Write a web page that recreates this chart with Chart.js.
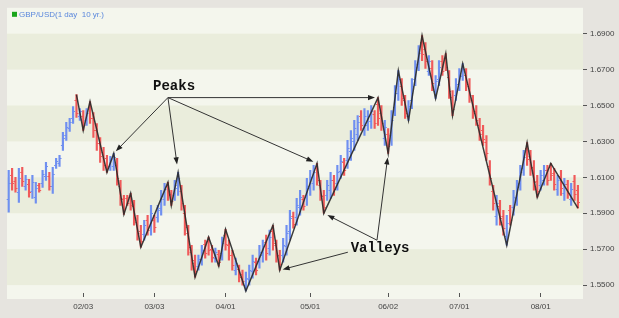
<!DOCTYPE html>
<html>
<head>
<meta charset="utf-8">
<script src="https://cdn.jsdelivr.net/npm/chart.js@4.4.1/dist/chart.umd.min.js"></script>
<style>
  html, body { margin: 0; padding: 0; background: #e6e4df; }
  #wrap { width: 619px; height: 318px; }
</style>
</head>
<body>
<div id="wrap"><canvas id="chart" width="619" height="318"></canvas></div>
<script>
// daily bars, one per trading day (index 0 = first bar on the left)
const highs = [
  1.6139, 1.6150, 1.6100, 1.6150, 1.6156, 1.6111, 1.6089, 1.6111, 1.6072, 1.6067,
  1.6139, 1.6183, 1.6128, 1.6156, 1.6206, 1.6222, 1.6350, 1.6406, 1.6428, 1.6494,
  1.6561, 1.6483, 1.6472, 1.6483, 1.6522, 1.6461, 1.6400, 1.6322, 1.6267, 1.6222,
  1.6217, 1.6233, 1.6206, 1.6083, 1.6000, 1.6000, 1.6011, 1.5972, 1.5889, 1.5833,
  1.5861, 1.5889, 1.5944, 1.5889, 1.5944, 1.6028, 1.6067, 1.6072, 1.6028, 1.6083,
  1.6128, 1.6056, 1.5944, 1.5833, 1.5722, 1.5667, 1.5667, 1.5722, 1.5750, 1.5767,
  1.5722, 1.5706, 1.5694, 1.5767, 1.5811, 1.5750, 1.5694, 1.5650, 1.5611, 1.5583,
  1.5572, 1.5611, 1.5667, 1.5650, 1.5722, 1.5750, 1.5778, 1.5806, 1.5833, 1.5750,
  1.5694, 1.5761, 1.5833, 1.5917, 1.5906, 1.5983, 1.6028, 1.6000, 1.6094, 1.6139,
  1.6167, 1.6178, 1.6083, 1.6028, 1.6083, 1.6128, 1.6111, 1.6167, 1.6222, 1.6206,
  1.6306, 1.6361, 1.6417, 1.6444, 1.6472, 1.6483, 1.6472, 1.6500, 1.6472, 1.6544,
  1.6500, 1.6417, 1.6372, 1.6472, 1.6611, 1.6694, 1.6650, 1.6556, 1.6528, 1.6650,
  1.6750, 1.6833, 1.6889, 1.6850, 1.6778, 1.6750, 1.6667, 1.6750, 1.6778, 1.6789,
  1.6694, 1.6583, 1.6650, 1.6706, 1.6733, 1.6706, 1.6650, 1.6556, 1.6500, 1.6428,
  1.6389, 1.6333, 1.6194, 1.6056, 1.6000, 1.5972, 1.5917, 1.5889, 1.5944, 1.6028,
  1.6083, 1.6167, 1.6250, 1.6294, 1.6250, 1.6194, 1.6111, 1.6139, 1.6167, 1.6167,
  1.6178, 1.6150, 1.6111, 1.6139, 1.6094, 1.6083, 1.6067, 1.6111, 1.6056
];
const lows = [
  1.5906, 1.6028, 1.6017, 1.5961, 1.6050, 1.6028, 1.5989, 1.5983, 1.5956, 1.6017,
  1.6044, 1.6083, 1.6028, 1.6011, 1.6150, 1.6161, 1.6250, 1.6306, 1.6356, 1.6400,
  1.6433, 1.6417, 1.6361, 1.6389, 1.6400, 1.6322, 1.6250, 1.6183, 1.6139, 1.6128,
  1.6139, 1.6139, 1.6056, 1.5944, 1.5894, 1.5944, 1.5917, 1.5833, 1.5750, 1.5711,
  1.5750, 1.5778, 1.5778, 1.5794, 1.5850, 1.5889, 1.5944, 1.5972, 1.5944, 1.5972,
  1.6000, 1.5917, 1.5778, 1.5667, 1.5583, 1.5544, 1.5583, 1.5611, 1.5650, 1.5667,
  1.5628, 1.5628, 1.5606, 1.5639, 1.5694, 1.5639, 1.5583, 1.5556, 1.5517, 1.5500,
  1.5467, 1.5500, 1.5539, 1.5556, 1.5594, 1.5628, 1.5639, 1.5667, 1.5694, 1.5628,
  1.5583, 1.5628, 1.5667, 1.5750, 1.5817, 1.5833, 1.5889, 1.5917, 1.5944, 1.6000,
  1.6028, 1.6056, 1.5972, 1.5900, 1.5972, 1.5983, 1.6000, 1.6028, 1.6094, 1.6111,
  1.6150, 1.6194, 1.6250, 1.6306, 1.6361, 1.6333, 1.6361, 1.6372, 1.6372, 1.6389,
  1.6361, 1.6278, 1.6233, 1.6278, 1.6444, 1.6528, 1.6500, 1.6428, 1.6417, 1.6483,
  1.6611, 1.6694, 1.6750, 1.6706, 1.6667, 1.6583, 1.6539, 1.6611, 1.6667, 1.6694,
  1.6539, 1.6444, 1.6528, 1.6583, 1.6639, 1.6583, 1.6517, 1.6428, 1.6389, 1.6306,
  1.6278, 1.6194, 1.6056, 1.5917, 1.5833, 1.5833, 1.5778, 1.5722, 1.5833, 1.5889,
  1.5944, 1.6028, 1.6111, 1.6167, 1.6111, 1.6028, 1.5989, 1.6028, 1.6056, 1.6056,
  1.6083, 1.6028, 1.6000, 1.6000, 1.5972, 1.5983, 1.5944, 1.5972, 1.5928
];
const opens = [
  1.5978, 1.6111, 1.6078, 1.6017, 1.6128, 1.6050, 1.6061, 1.6022, 1.5989, 1.6056,
  1.6067, 1.6106, 1.6106, 1.6050, 1.6167, 1.6178, 1.6278, 1.6333, 1.6372, 1.6428,
  1.6528, 1.6439, 1.6444, 1.6417, 1.6494, 1.6428, 1.6361, 1.6289, 1.6239, 1.6206,
  1.6161, 1.6161, 1.6167, 1.6050, 1.5978, 1.5983, 1.5989, 1.5939, 1.5850, 1.5800,
  1.5783, 1.5861, 1.5828, 1.5861, 1.5878, 1.5928, 1.5978, 1.6050, 1.6006, 1.6000,
  1.6039, 1.6022, 1.5900, 1.5789, 1.5683, 1.5639, 1.5606, 1.5644, 1.5728, 1.5744,
  1.5700, 1.5650, 1.5672, 1.5678, 1.5778, 1.5722, 1.5667, 1.5583, 1.5589, 1.5561,
  1.5500, 1.5533, 1.5578, 1.5628, 1.5633, 1.5667, 1.5739, 1.5706, 1.5800, 1.5722,
  1.5667, 1.5667, 1.5717, 1.5800, 1.5883, 1.5878, 1.5933, 1.5978, 1.5989, 1.6039,
  1.6067, 1.6150, 1.6056, 1.5994, 1.6000, 1.6028, 1.6083, 1.6067, 1.6133, 1.6183,
  1.6194, 1.6244, 1.6300, 1.6344, 1.6444, 1.6372, 1.6389, 1.6411, 1.6450, 1.6506,
  1.6461, 1.6317, 1.6339, 1.6333, 1.6494, 1.6572, 1.6611, 1.6528, 1.6444, 1.6528,
  1.6650, 1.6733, 1.6856, 1.6817, 1.6694, 1.6711, 1.6578, 1.6650, 1.6750, 1.6767,
  1.6656, 1.6550, 1.6561, 1.6617, 1.6667, 1.6672, 1.6611, 1.6528, 1.6472, 1.6394,
  1.6361, 1.6294, 1.6161, 1.6022, 1.5883, 1.5939, 1.5883, 1.5772, 1.5917, 1.5933,
  1.5983, 1.6067, 1.6150, 1.6261, 1.6217, 1.6156, 1.6078, 1.6056, 1.6083, 1.6139,
  1.6156, 1.6122, 1.6033, 1.6106, 1.6011, 1.6061, 1.5978, 1.6078, 1.6028
];
const closes = [
  1.6067, 1.6067, 1.6039, 1.6094, 1.6078, 1.6089, 1.6017, 1.6072, 1.6039, 1.6028,
  1.6117, 1.6161, 1.6050, 1.6117, 1.6189, 1.6206, 1.6317, 1.6378, 1.6406, 1.6472,
  1.6461, 1.6467, 1.6389, 1.6461, 1.6428, 1.6361, 1.6289, 1.6217, 1.6167, 1.6150,
  1.6200, 1.6211, 1.6094, 1.5983, 1.5922, 1.5956, 1.5944, 1.5872, 1.5789, 1.5744,
  1.5833, 1.5806, 1.5900, 1.5822, 1.5917, 1.5994, 1.6033, 1.6000, 1.5967, 1.6056,
  1.6094, 1.5956, 1.5822, 1.5711, 1.5622, 1.5578, 1.5644, 1.5694, 1.5678, 1.5694,
  1.5656, 1.5683, 1.5628, 1.5733, 1.5728, 1.5667, 1.5611, 1.5622, 1.5544, 1.5522,
  1.5539, 1.5583, 1.5633, 1.5583, 1.5683, 1.5717, 1.5678, 1.5767, 1.5733, 1.5661,
  1.5617, 1.5722, 1.5789, 1.5872, 1.5839, 1.5944, 1.5989, 1.5939, 1.6050, 1.6100,
  1.6128, 1.6083, 1.6000, 1.5933, 1.6056, 1.6083, 1.6033, 1.6128, 1.6189, 1.6139,
  1.6261, 1.6317, 1.6372, 1.6406, 1.6394, 1.6444, 1.6444, 1.6467, 1.6400, 1.6433,
  1.6400, 1.6383, 1.6272, 1.6417, 1.6567, 1.6650, 1.6544, 1.6461, 1.6500, 1.6606,
  1.6717, 1.6794, 1.6789, 1.6750, 1.6750, 1.6628, 1.6639, 1.6717, 1.6694, 1.6717,
  1.6578, 1.6483, 1.6617, 1.6672, 1.6706, 1.6617, 1.6556, 1.6461, 1.6422, 1.6339,
  1.6311, 1.6233, 1.6094, 1.5956, 1.5956, 1.5872, 1.5817, 1.5844, 1.5861, 1.5989,
  1.6044, 1.6128, 1.6211, 1.6200, 1.6150, 1.6072, 1.6022, 1.6111, 1.6139, 1.6083,
  1.6111, 1.6061, 1.6083, 1.6039, 1.6061, 1.6011, 1.6033, 1.6006, 1.5961
];

// zigzag turning points (bar index, price)
const zigIdx = [20, 22, 24, 29, 31, 34, 36, 39, 47, 48, 50, 55, 59, 62, 64, 70, 78,
  80, 91, 93, 109, 112, 115, 118, 122, 126, 129, 131, 134, 147, 153, 156, 160, 168];
const zigVal = [1.6561, 1.6361, 1.6522, 1.6128, 1.6233, 1.5894, 1.6011, 1.5711, 1.6072,
  1.5944, 1.6128, 1.5544, 1.5767, 1.5606, 1.5811, 1.5467, 1.5833, 1.5583, 1.6178, 1.5900,
  1.6544, 1.6233, 1.6694, 1.6417, 1.6889, 1.6539, 1.6789, 1.6444, 1.6733, 1.5722, 1.6294,
  1.5989, 1.6178, 1.5928];

const xTickIdx = [22, 43, 64, 89, 112, 133, 157];
const xTickLabels = ['02/03', '03/03', '04/01', '05/01', '06/02', '07/01', '08/01'];
const yTicks = [1.55, 1.57, 1.59, 1.61, 1.63, 1.65, 1.67, 1.69];
const seriesName = 'GBP/USD(1 day  10 yr.)';

const peakTargets = [31, 50, 91, 109];
const valleyTargets = [80, 93, 112];

const UP = '#6f8ff0';
const DOWN = '#f05a5a';

// notes: text anchor and arrow origins in data space, gap = px left before the target
const notes = [
  { text: 'Peaks', at: [48.8, 1.6589],
    arrows: [[47.0, 1.6544, peakTargets[0], 3], [47.0, 1.6544, peakTargets[1], 8],
             [47.0, 1.6544, peakTargets[2], 4], [47.0, 1.6544, peakTargets[3], 3]] },
  { text: 'Valleys', at: [109.6, 1.5683],
    arrows: [[100.1, 1.5683, valleyTargets[0], 3], [108.7, 1.5750, valleyTargets[1], 4],
             [108.7, 1.5750, valleyTargets[2], 4]] }
];

Chart.defaults.font.family = '"Liberation Sans", Arial, sans-serif';

const isUp = i => closes[i] >= opens[i];

const bands = {
  id: 'bands',
  beforeDraw(chart) {
    const { ctx, chartArea: a, scales: { y } } = chart;
    ctx.save();
    ctx.fillStyle = '#e6e4df';
    ctx.fillRect(0, 0, chart.width, chart.height);
    ctx.fillStyle = '#f4f6ed';
    ctx.fillRect(a.left, a.top, a.right - a.left, a.bottom + 6 - a.top);
    ctx.fillStyle = '#eaeddc';
    const t = [...yTicks].sort((p, q) => q - p);
    for (let k = 0; k + 1 < t.length; k += 2) {
      const y1 = y.getPixelForValue(t[k]);
      const y2 = y.getPixelForValue(t[k + 1]);
      ctx.fillRect(a.left, y1, a.right - a.left, y2 - y1);
    }
    ctx.restore();
  }
};

// open / close ticks on the high-low bars
const ocTicks = {
  id: 'ocTicks',
  afterDatasetDraw(chart, args) {
    if (args.meta.type !== 'bar') return;
    const { ctx, scales: { x, y } } = chart;
    ctx.save();
    ctx.lineWidth = 1;
    for (let i = 0; i < opens.length; i++) {
      const px = x.getPixelForValue(i);
      const yo = Math.round(y.getPixelForValue(opens[i])) + 0.5;
      const yc = Math.round(y.getPixelForValue(closes[i])) + 0.5;
      ctx.strokeStyle = isUp(i) ? UP : DOWN;
      ctx.beginPath();
      ctx.moveTo(px - 2, yo); ctx.lineTo(px, yo);
      ctx.moveTo(px, yc); ctx.lineTo(px + 2, yc);
      ctx.stroke();
    }
    ctx.restore();
  }
};

function arrow(ctx, x1, y1, x2, y2, gap) {
  const len = Math.hypot(x2 - x1, y2 - y1);
  const ux = (x2 - x1) / len, uy = (y2 - y1) / len;
  const ex = x2 - ux * gap, ey = y2 - uy * gap;
  ctx.beginPath();
  ctx.moveTo(x1, y1);
  ctx.lineTo(ex - ux * 4, ey - uy * 4);
  ctx.stroke();
  ctx.beginPath();
  ctx.moveTo(ex, ey);
  ctx.lineTo(ex - ux * 7 - uy * 2.6, ey - uy * 7 + ux * 2.6);
  ctx.lineTo(ex - ux * 7 + uy * 2.6, ey - uy * 7 - ux * 2.6);
  ctx.closePath();
  ctx.fill();
}

const notesPlugin = {
  id: 'notes',
  afterDatasetsDraw(chart) {
    const { ctx, chartArea: a, scales: { x, y } } = chart;
    ctx.save();
    ctx.strokeStyle = '#333';
    ctx.fillStyle = '#222';
    ctx.lineWidth = 1;
    notes.forEach(n => {
      n.arrows.forEach(([fx, fy, t, gap]) => {
        const v = zigVal[zigIdx.indexOf(t)];
        arrow(ctx, x.getPixelForValue(fx), y.getPixelForValue(fy),
              x.getPixelForValue(t), y.getPixelForValue(v), gap);
      });
      ctx.font = 'bold 14px "Liberation Mono", "Courier New", monospace';
      ctx.textAlign = 'center';
      ctx.textBaseline = 'alphabetic';
      ctx.fillStyle = '#111';
      ctx.fillText(n.text, x.getPixelForValue(n.at[0]), y.getPixelForValue(n.at[1]));
      ctx.fillStyle = '#222';
    });
    // series key, top left
    ctx.fillStyle = '#1aa51a';
    ctx.fillRect(a.left + 5, a.top + 4, 5, 5);
    ctx.fillStyle = '#5a87dc';
    ctx.font = '8px "Liberation Sans", Arial, sans-serif';
    ctx.textAlign = 'left';
    ctx.textBaseline = 'middle';
    ctx.fillText(seriesName, a.left + 12, a.top + 7);
    ctx.restore();
  }
};

new Chart(document.getElementById('chart'), {
  type: 'bar',
  data: {
    datasets: [
      {
        type: 'line',
        data: zigIdx.map((v, k) => ({ x: v, y: zigVal[k] })),
        borderColor: 'rgba(40,40,40,0.9)',
        borderWidth: 1.5,
        pointRadius: 0,
        tension: 0,
        order: 0
      },
      {
        type: 'bar',
        data: highs.map((h, i) => ({ x: i, y: [lows[i], h] })),
        backgroundColor: c => isUp(c.dataIndex) ? UP : DOWN,
        barThickness: 1.5,
        borderWidth: 0,
        order: 1
      }
    ]
  },
  options: {
    responsive: false,
    animation: false,
    layout: { padding: { left: 7, top: 7, right: 0, bottom: 0 } },
    plugins: { legend: { display: false }, tooltip: { enabled: false } },
    scales: {
      x: {
        type: 'linear',
        min: -0.5,
        max: 169.5,
        offset: false,
        border: { display: false },
        grid: { offset: false, drawOnChartArea: false, tickLength: 4, tickColor: '#555' },
        ticks: {
          autoSkip: false, maxRotation: 0, padding: 5,
          color: '#444', font: { size: 8 },
          callback: v => xTickLabels[xTickIdx.indexOf(v)]
        },
        afterBuildTicks: s => { s.ticks = xTickIdx.map(v => ({ value: v })); },
        afterFit: s => { s.height = 25; }
      },
      y: {
        position: 'right',
        min: 1.5456,
        max: 1.7044,
        border: { display: false },
        grid: { offset: false, drawOnChartArea: false, tickLength: 4, tickColor: '#555' },
        ticks: {
          padding: 3, color: '#444', font: { size: 8 },
          callback: v => Number(v).toFixed(4)
        },
        afterBuildTicks: s => { s.ticks = yTicks.map(v => ({ value: v })); },
        afterFit: s => { s.width = 36; }
      }
    }
  },
  plugins: [bands, ocTicks, notesPlugin]
});
</script>
</body>
</html>
